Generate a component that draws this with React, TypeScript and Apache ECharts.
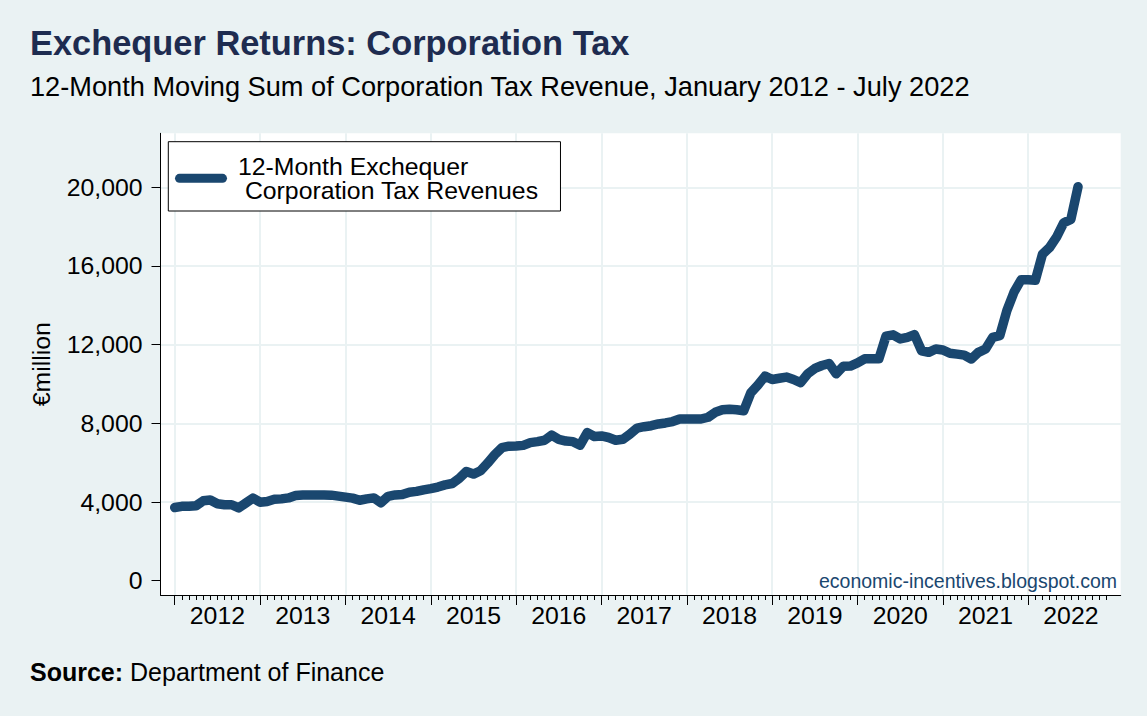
import React, { useEffect, useRef } from "react";
import * as echarts from "echarts";

// 12-month moving sum, €million, one array per year (2022 runs to the last point shown)
const ct2012 = [3720, 3780, 3790, 3810, 4060, 4100, 3910, 3860, 3860, 3700, 3950, 4200];
const ct2013 = [3990, 4030, 4140, 4160, 4210, 4330, 4360, 4360, 4360, 4360, 4350, 4300];
const ct2014 = [4250, 4200, 4090, 4160, 4210, 3960, 4290, 4360, 4380, 4500, 4540, 4620];
const ct2015 = [4680, 4760, 4870, 4940, 5200, 5550, 5420, 5590, 5980, 6410, 6760, 6840];
const ct2016 = [6850, 6880, 7020, 7070, 7140, 7400, 7190, 7100, 7070, 6890, 7530, 7330];
const ct2017 = [7360, 7280, 7140, 7190, 7450, 7760, 7830, 7880, 7970, 8020, 8090, 8220];
const ct2018 = [8220, 8220, 8220, 8310, 8560, 8690, 8720, 8690, 8640, 9560, 9950, 10400];
const ct2019 = [10230, 10290, 10350, 10230, 10070, 10520, 10790, 10940, 11040, 10520, 10900, 10910];
const ct2020 = [11070, 11280, 11280, 11280, 12430, 12500, 12290, 12370, 12510, 11690, 11610, 11780];
const ct2021 = [11730, 11560, 11520, 11470, 11270, 11610, 11780, 12370, 12460, 13740, 14670, 15300];
const ct2022 = [15300, 15270, 16600, 16940, 17480, 18200, 18370, 20030];

const revenue = [
  ...ct2012, ...ct2013, ...ct2014, ...ct2015, ...ct2016, ...ct2017,
  ...ct2018, ...ct2019, ...ct2020, ...ct2021, ...ct2022,
];

const yTicks = [0, 4000, 8000, 12000, 16000, 20000];
const seriesName = "12-Month Exchequer\n Corporation Tax Revenues";

// axis runs from Nov 2011 (-2) to Feb 2023 (133), months counted from Jan 2012
const firstMonth = -2;
const lastMonth = 133;
const lastTickMonth = 131;
const categories: string[] = [];
for (let m = firstMonth; m <= lastMonth; m++) {
  const year = 2012 + Math.floor(m / 12);
  const month = ((m % 12) + 12) % 12 + 1;
  categories.push(`${year}-${String(month).padStart(2, "0")}`);
}

const W = 1147;
const H = 716;
const plotLeft = 160.5;
const plotRight = 1120.7;
const plotTop = 133.3;
const plotBottom = 595;
const zeroY = 580.7;
const pxPerUnit = 0.01967;
const yMin = -(plotBottom - zeroY) / pxPerUnit;
const yMax = (zeroY - plotTop) / pxPerUnit;
const yTopTick = yTicks[yTicks.length - 1];
const yTopPx = zeroY - yTopTick * pxPerUnit;
const yFirstGridPx = zeroY - yTicks[1] * pxPerUnit;

const FONT = "'Liberation Sans', Arial, Helvetica, sans-serif";
const BG = "#eaf2f3";
const GRID = "#eaf2f3";
const NAVY = "#1a476f";
const LABEL_SIZE = 24.8;

const monthOf = (i: number) => i + firstMonth;

export default function App() {
  const chartRef = useRef<HTMLDivElement>(null);

  useEffect(() => {
    document.body.style.margin = "0";
    if (!chartRef.current) return;
    const chart = echarts.init(chartRef.current, null, { renderer: "svg" });

    const baseGrid = { left: plotLeft, right: W - plotRight };
    const hiddenValue = (gridIndex: number) => ({ type: "value", gridIndex, show: false });

    const option = {
      animation: false,
      backgroundColor: BG,
      textStyle: { fontFamily: FONT },
      grid: [
        {
          ...baseGrid,
          top: plotTop,
          bottom: H - plotBottom,
          show: true,
          backgroundColor: "#ffffff",
          borderWidth: 0,
        },
        { ...baseGrid, top: yTopPx, bottom: H - zeroY },
        { ...baseGrid, top: yTopPx, bottom: H - yFirstGridPx },
        { ...baseGrid, top: plotTop, bottom: H - plotBottom },
      ],
      xAxis: [
        {
          type: "category",
          gridIndex: 0,
          data: categories,
          boundaryGap: false,
          axisLine: { show: true, onZero: false, lineStyle: { color: "#000", width: 1 } },
          axisTick: {
            show: true,
            length: 5,
            interval: (i: number) => monthOf(i) >= 0 && monthOf(i) <= lastTickMonth,
            lineStyle: { color: "#000", width: 1 },
          },
          axisLabel: { show: false },
          splitLine: {
            show: true,
            interval: (i: number) => monthOf(i) % 12 === 0 && monthOf(i) >= 0 && monthOf(i) <= 120,
            lineStyle: { color: GRID, width: 2 },
          },
        },
        hiddenValue(1),
        hiddenValue(2),
        {
          type: "category",
          gridIndex: 3,
          data: categories,
          boundaryGap: false,
          axisLine: { show: false, onZero: false },
          axisTick: {
            show: true,
            length: 10,
            interval: (i: number) => monthOf(i) % 12 === 0 && monthOf(i) >= 0 && monthOf(i) <= lastTickMonth,
            lineStyle: { color: "#000", width: 1 },
          },
          axisLabel: {
            show: true,
            interval: (i: number) => monthOf(i) % 12 === 6 && monthOf(i) > 0,
            formatter: (v: string) => v.slice(0, 4),
            fontSize: LABEL_SIZE,
            fontFamily: FONT,
            color: "#000",
            margin: 7.5,
          },
          splitLine: { show: false },
        },
      ],
      yAxis: [
        {
          type: "value",
          gridIndex: 0,
          min: yMin,
          max: yMax,
          axisLine: { show: true, onZero: false, lineStyle: { color: "#000", width: 1 } },
          axisTick: { show: false },
          axisLabel: { show: false },
          splitLine: { show: false },
        },
        {
          type: "value",
          gridIndex: 1,
          min: yTicks[0],
          max: yTopTick,
          interval: yTicks[1] - yTicks[0],
          axisLine: { show: false, onZero: false },
          axisTick: { show: true, length: 9, lineStyle: { color: "#000", width: 1 } },
          axisLabel: {
            fontSize: LABEL_SIZE,
            fontFamily: FONT,
            color: "#000",
            margin: 18,
            formatter: (v: number) => v.toLocaleString("en-US"),
          },
          splitLine: { show: false },
        },
        {
          type: "value",
          gridIndex: 2,
          min: yTicks[1],
          max: yTopTick,
          interval: yTicks[1] - yTicks[0],
          axisLine: { show: false, onZero: false },
          axisTick: { show: false },
          axisLabel: { show: false },
          splitLine: { show: true, lineStyle: { color: GRID, width: 2 } },
        },
        hiddenValue(3),
      ],
      legend: {
        data: [seriesName],
        left: 168.3,
        top: 141.7,
        orient: "vertical",
        padding: [11.8, 22, 7.8, 6.7],
        backgroundColor: "#ffffff",
        borderColor: "#000",
        borderWidth: 1,
        borderRadius: 0,
        itemWidth: 52,
        itemHeight: 9,
        icon: "path://M4.5,0 L47.5,0 A4.5,4.5 0 0 1 47.5,9 L4.5,9 A4.5,4.5 0 0 1 4.5,0 Z",
        textStyle: {
          fontSize: LABEL_SIZE,
          lineHeight: 24.7,
          fontFamily: FONT,
          color: "#000",
          padding: [0, 0, 0, 6],
        },
      },
      graphic: [
        {
          type: "text",
          x: 30,
          y: 43.3,
          style: {
            text: "Exchequer Returns: Corporation Tax",
            fontSize: 34.4,
            fontWeight: "bold",
            fontFamily: FONT,
            fill: "#1e2c50",
            verticalAlign: "middle",
          },
        },
        {
          type: "text",
          x: 30,
          y: 86,
          style: {
            text: "12-Month Moving Sum of Corporation Tax Revenue, January 2012 - July 2022",
            fontSize: 27.2,
            fontFamily: FONT,
            fill: "#000",
            verticalAlign: "middle",
          },
        },
        {
          type: "text",
          x: 41,
          y: (plotTop + plotBottom) / 2,
          rotation: Math.PI / 2,
          style: {
            text: "€million",
            fontSize: LABEL_SIZE,
            fontFamily: FONT,
            fill: "#000",
            align: "center",
            verticalAlign: "middle",
          },
        },
        {
          type: "text",
          x: 1117,
          y: zeroY,
          z: 10,
          style: {
            text: "economic-incentives.blogspot.com",
            fontSize: 19.5,
            fontFamily: FONT,
            fill: NAVY,
            align: "right",
            verticalAlign: "middle",
          },
        },
        {
          type: "text",
          x: 30,
          y: 672,
          style: {
            text: "{b|Source:} Department of Finance",
            fontSize: 25,
            fontFamily: FONT,
            fill: "#000",
            verticalAlign: "middle",
            rich: {
              b: { fontSize: 25, fontWeight: "bold", fontFamily: FONT, fill: "#000" },
            },
          },
        },
      ],
      series: [
        {
          name: seriesName,
          type: "line",
          xAxisIndex: 0,
          yAxisIndex: 0,
          data: revenue.map((v, k) => [categories[k - firstMonth], v]),
          symbol: "none",
          showSymbol: false,
          z: 5,
          lineStyle: { color: NAVY, width: 9.5, cap: "round", join: "round" },
          itemStyle: { color: NAVY },
        },
      ],
    };

    chart.setOption(option as echarts.EChartsOption);
    return () => chart.dispose();
  }, []);

  return <div ref={chartRef} style={{ width: W, height: H }} />;
}
